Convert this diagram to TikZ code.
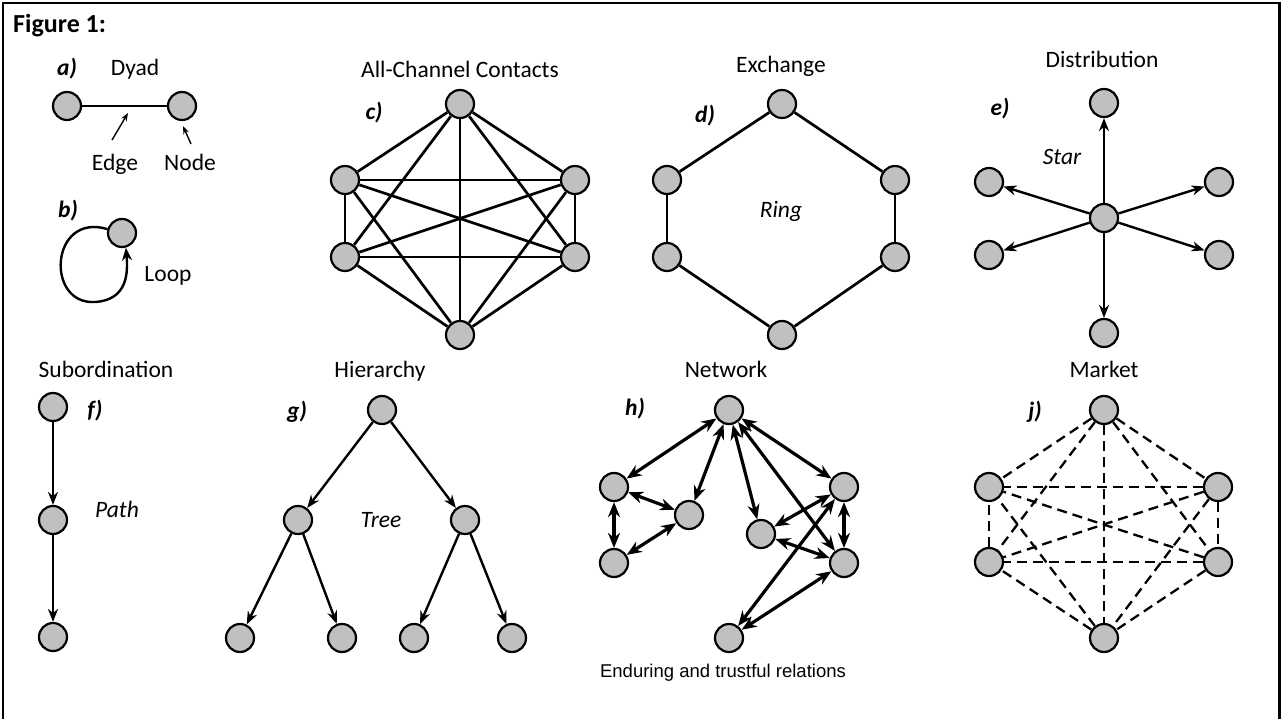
\documentclass[tikz,border=0pt]{standalone}
\usepackage{fontspec}
\setmainfont{Carlito}
\newfontfamily\arialf{Liberation Sans}
\usetikzlibrary{arrows.meta}
\definecolor{ndgray}{RGB}{192,192,192}
\begin{document}
\begin{tikzpicture}[x=1pt,y=-1pt,
  nd/.style={circle,draw=black,line width=2.2pt,fill=ndgray,minimum size=28pt,inner sep=0pt},
  lbl/.style={font=\fontsize{23.5}{27}\selectfont, inner sep=0pt, anchor=base},
  tag/.style={font=\fontsize{23.5}{27}\selectfont\bfseries\itshape, inner sep=0pt, anchor=base},
  ital/.style={font=\fontsize{23.5}{27}\selectfont\itshape, inner sep=0pt, anchor=base},
  ln/.style={line width=2.7pt},
  arr/.style={line width=2.4pt,-{Stealth[length=13pt,width=10pt]}},
  darr/.style={line width=3.2pt,{Stealth[length=15pt,width=12pt]}-{Stealth[length=15pt,width=12pt]}},
  dsh/.style={line width=2.3pt,dash pattern=on 10pt off 6pt},
  thinarr/.style={line width=1.4pt,-{Stealth[length=8pt,width=6pt]}}
]
\useasboundingbox (0,0) rectangle (1282,719);
% frame
\draw[line width=2.8pt] (3,730) -- (3,3) -- (1279.5,3) -- (1279.5,730);
\node[font=\fontsize{26}{30}\selectfont\bfseries, inner sep=0pt, anchor=base west] (fig) at (13,33) {Figure 1:};

% a) Dyad
\node[tag] (ta) at (67,76) {a)};
\node[lbl] (tdyad) at (135,76) {Dyad};
\node[nd] (a1) at (67,106) {};
\node[nd] (a2) at (182,106) {};
\draw[ln] (a1) -- (a2);
\node[lbl] (ledge) at (115,171) {Edge};
\node[lbl] (lnode) at (190,171) {Node};
\coordinate (ea) at (112,140); \coordinate (eb) at (128,113);
\coordinate (na) at (191,144); \coordinate (nb) at (183,126);
\draw[thinarr] (ea) -- (eb);
\draw[thinarr] (na) -- (nb);

% b) Loop
\node[tag] (tb) at (68,218) {b)};
\node[nd] (lp) at (122,233) {};
\draw[arr] (lp.165) .. controls (50,212) and (45,305) .. (95,302) .. controls (128,300) and (128,272) .. (lp.-75);
\node[lbl] (lloop) at (168,282) {Loop};

% c) All-Channel Contacts
\node[lbl] (tc) at (460,78) {All-Channel Contacts};
\node[tag] (lc) at (374,120) {c)};
\node[nd] (c1) at (460,104) {};
\node[nd] (c2) at (575,180) {};
\node[nd] (c3) at (575,257) {};
\node[nd] (c4) at (460,335) {};
\node[nd] (c5) at (345,257) {};
\node[nd] (c6) at (345,180) {};
\begin{scope}[on background layer/.style={}]
\foreach \i/\j in {1/2,1/3,1/4,1/5,1/6,2/3,2/4,2/5,2/6,3/4,3/5,3/6,4/5,4/6,5/6}
  \draw[ln] (c\i) -- (c\j);
\end{scope}

% d) Exchange
\node[lbl] (td) at (781,73) {Exchange};
\node[tag] (ld) at (705,123) {d)};
\node[ital] (ring) at (781,218) {Ring};
\node[nd] (d1) at (782,104) {};
\node[nd] (d2) at (895,180) {};
\node[nd] (d3) at (895,257) {};
\node[nd] (d4) at (782,335) {};
\node[nd] (d5) at (667,257) {};
\node[nd] (d6) at (667,180) {};
\foreach \i/\j in {1/2,2/3,3/4,4/5,5/6,6/1}
  \draw[ln] (d\i) -- (d\j);

% e) Distribution
\node[lbl] (te) at (1102,68) {Distribution};
\node[tag] (le) at (1000,116) {e)};
\node[ital] (star) at (1062,165) {Star};
\node[nd] (e0) at (1104,218) {};
\node[nd] (e1) at (1104,103) {};
\node[nd] (e2) at (1219,182) {};
\node[nd] (e3) at (1219,255) {};
\node[nd] (e4) at (1104,333) {};
\node[nd] (e5) at (989,255) {};
\node[nd] (e6) at (989,182) {};
\foreach \i in {1,...,6}
  \draw[arr] (e0) -- (e\i);

% f) Subordination
\node[lbl] (tf) at (106,377) {Subordination};
\node[tag] (lf) at (95,417) {f)};
\node[ital] (path) at (117,517) {Path};
\node[nd] (f1) at (53,407) {};
\node[nd] (f2) at (53,520) {};
\node[nd] (f3) at (53,637) {};
\draw[arr] (f1) -- (f2);
\draw[arr] (f2) -- (f3);

% g) Hierarchy
\node[lbl] (tg) at (380,377) {Hierarchy};
\node[tag] (lg) at (297,418) {g)};
\node[ital] (tree) at (381,527) {Tree};
\node[nd] (g0) at (382,410) {};
\node[nd] (g1) at (298,520) {};
\node[nd] (g2) at (465,520) {};
\node[nd] (g3) at (240,638) {};
\node[nd] (g4) at (342,638) {};
\node[nd] (g5) at (414,638) {};
\node[nd] (g6) at (512,638) {};
\draw[arr] (g0) -- (g1);
\draw[arr] (g0) -- (g2);
\draw[arr] (g1) -- (g3);
\draw[arr] (g1) -- (g4);
\draw[arr] (g2) -- (g5);
\draw[arr] (g2) -- (g6);

% h) Network
\node[lbl] (th) at (726,377) {Network};
\node[tag] (lh) at (635,415) {h)};
\node[nd] (h0) at (729,410) {};
\node[nd] (hl1) at (614,487) {};
\node[nd] (hl2) at (614,563) {};
\node[nd] (hm) at (689,515) {};
\node[nd] (hc) at (761,534) {};
\node[nd] (hr1) at (844,487) {};
\node[nd] (hr2) at (844,563) {};
\node[nd] (hb) at (729,638) {};
\foreach \a/\b in {h0/hl1,h0/hm,hl1/hm,hl1/hl2,hl2/hm,h0/hc,h0/hr1,h0/hr2,hr1/hc,hr1/hr2,hc/hr2,hr1/hb,hr2/hb}
  \draw[darr] (\a) -- (\b);
\node[font=\arialf\fontsize{18.5}{22}\selectfont, inner sep=0pt, anchor=base] (enduring) at (723,677) {Enduring and trustful relations};

% j) Market
\node[lbl] (tj) at (1104,377) {Market};
\node[tag] (lj) at (1035,418) {j)};
\node[nd] (j1) at (1104,410) {};
\node[nd] (j2) at (1218,487) {};
\node[nd] (j3) at (1218,562) {};
\node[nd] (j4) at (1104,638) {};
\node[nd] (j5) at (989,562) {};
\node[nd] (j6) at (989,487) {};
\foreach \i/\j in {1/2,1/3,1/4,1/5,1/6,2/3,2/4,2/5,2/6,3/4,3/5,3/6,4/5,4/6,5/6}
  \draw[dsh] (j\i) -- (j\j);
\end{tikzpicture}
\end{document}
